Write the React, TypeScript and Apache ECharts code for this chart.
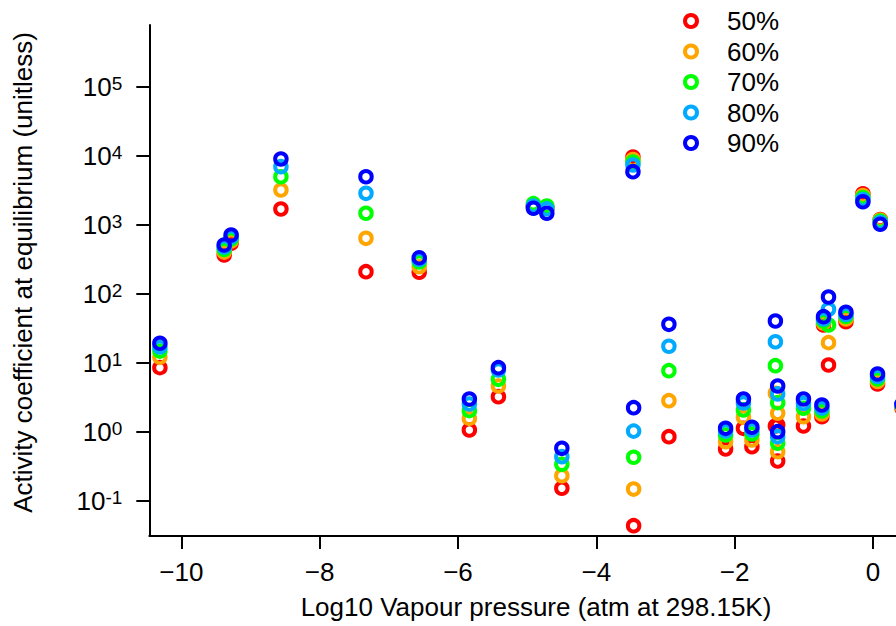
import React, { useEffect, useRef } from 'react';
import * as echarts from 'echarts';

const FONT = '"Liberation Sans", Arial, sans-serif';

const seriesNames = ['50%', '60%', '70%', '80%', '90%'];
const seriesColors = ['#ff0000', '#ffa500', '#00ff00', '#00aaff', '#0000ff'];

// Log10 vapour pressure of each compound (atm at 298.15K)
const vapourPressure = [
  -10.31, -9.38, -9.28, -8.56, -7.33, -6.56, -5.835, -5.415, -4.498, -4.909,
  -4.715, -3.47, -3.46, -2.95, -2.13, -1.872, -1.75, -1.41, -1.377, -1.377,
  -1.004, -0.738, -0.714, -0.642, -0.39, 0.067, -0.145, 0.106, 0.42,
];

// Activity coefficients at equilibrium for each RH
const gamma50 = [
  8.5, 367, 543, 1708, 210, 206, 1.06, 3.22, 0.151, 1850,
  1750, 9700, 0.0432, 0.846, 0.561, 1.12, 0.606, 1.21, 1.25, 0.376,
  1.21, 1.65, 35.4, 9.29, 39.5, 4.92, 2845, 1202, 2.2,
];
const gamma60 = [
  12, 405, 586, 3221, 641, 248, 1.56, 4.61, 0.23, 1950,
  1800, 8930, 0.147, 2.82, 0.716, 1.62, 0.758, 3.61, 1.85, 0.513,
  1.65, 1.81, 37.9, 19.6, 43.2, 5.35, 2680, 1183, 2.3,
];
const gamma70 = [
  14.8, 441, 627, 5023, 1479, 290, 2.02, 5.76, 0.336, 2040,
  1890, 8210, 0.425, 7.68, 0.895, 2.07, 0.926, 9.08, 2.64, 0.679,
  2.19, 2.0, 40.5, 35.4, 47, 5.82, 2506, 1143, 2.4,
];
const gamma80 = [
  17, 479, 670, 7018, 2884, 316, 2.52, 7.86, 0.434, 1890,
  1710, 7430, 1.02, 17.4, 1.02, 2.61, 1.06, 20.2, 3.53, 0.846,
  2.57, 2.21, 43.2, 59.8, 50.2, 6.32, 2344, 1087, 2.45,
];
const gamma90 = [
  19.2, 513, 716, 9078, 5023, 335, 2.98, 8.49, 0.574, 1750,
  1480, 5940, 2.23, 36.2, 1.12, 2.98, 1.16, 40.4, 4.6, 1.0,
  2.98, 2.44, 46.7, 90.2, 54.1, 6.88, 2178, 1024, 2.5,
];
const gammaSeries = [gamma50, gamma60, gamma70, gamma80, gamma90];

const xTicks = [-10, -8, -6, -4, -2, 0];
const yTicks = [0.1, 1, 10, 100, 1000, 10000, 100000];

const xTitle = 'Log10 Vapour pressure (atm at 298.15K)';
const yTitle = 'Activity coefficient at equilibrium (unitless)';

export default function App() {
  const ref = useRef<HTMLDivElement>(null);

  useEffect(() => {
    const chart = echarts.init(ref.current!, null, { renderer: 'svg' });
    const axisLineStyle = { color: '#000', width: 2 };
    chart.setOption({
      animation: false,
      backgroundColor: '#fff',
      grid: {
        left: 149.3,
        top: 25,
        right: 57.3,
        bottom: 90,
        containLabel: false,
        outerBoundsMode: 'none',
      },
      xAxis: {
        type: 'value',
        min: -10.463,
        max: 0.72,
        axisLine: { show: true, onZero: false, lineStyle: axisLineStyle },
        axisTick: { show: true, inside: false, length: 13, lineStyle: axisLineStyle, customValues: xTicks },
        axisLabel: {
          customValues: xTicks,
          fontSize: 26,
          fontFamily: FONT,
          color: '#000',
          margin: 23,
          formatter: (v: number) => (v < 0 ? '\u2212' + Math.abs(v) : String(v)),
        },
        splitLine: { show: false },
        name: xTitle,
        nameLocation: 'middle',
        nameGap: 58,
        nameTextStyle: { fontSize: 26, fontFamily: FONT, color: '#000' },
      },
      yAxis: {
        type: 'log',
        logBase: 10,
        min: 0.03062,
        max: 799800,
        axisLine: { show: true, onZero: false, lineStyle: axisLineStyle },
        axisTick: { show: true, inside: false, length: 13, lineStyle: axisLineStyle, customValues: yTicks },
        axisLabel: {
          customValues: yTicks,
          margin: 27,
          formatter: (v: number) => `{b|10}{s|${Math.round(Math.log10(v))}}`,
          rich: {
            b: {
              fontSize: 26,
              fontFamily: FONT,
              color: '#000',
              lineHeight: 26,
              verticalAlign: 'bottom',
              padding: [8, 0, 0, 0],
            },
            s: {
              fontSize: 19,
              fontFamily: FONT,
              color: '#000',
              lineHeight: 19,
              verticalAlign: 'top',
            },
          },
        },
        splitLine: { show: false },
      },
      legend: {
        orient: 'vertical',
        left: 678,
        top: 3,
        itemWidth: 12,
        itemHeight: 12,
        itemGap: 4.5,
        icon: 'circle',
        itemStyle: { color: 'transparent', borderWidth: 4, opacity: 1 },
        textStyle: {
          fontSize: 26,
          fontFamily: FONT,
          color: '#000',
          lineHeight: 26,
          padding: [0, 0, 0, 25],
        },
        data: seriesNames,
      },
      graphic: [
        {
          type: 'text',
          x: 23,
          y: 272.5,
          rotation: Math.PI / 2,
          style: {
            text: yTitle,
            font: `26px ${FONT}`,
            fill: '#000',
            align: 'center',
            verticalAlign: 'middle',
          },
        },
      ],
      series: seriesNames.map((name, k) => ({
        type: 'scatter',
        name,
        symbol: 'circle',
        symbolSize: 11.5,
        silent: true,
        itemStyle: {
          color: 'transparent',
          borderColor: seriesColors[k],
          borderWidth: 4,
          opacity: 1,
        },
        data: vapourPressure.map((x, i) => [x, gammaSeries[k][i]]),
      })),
    });
    return () => chart.dispose();
  }, []);

  return (
    <div
      style={{
        position: 'fixed',
        left: 0,
        top: 0,
        width: 896,
        height: 626,
        overflow: 'hidden',
        background: '#fff',
      }}
    >
      <div ref={ref} style={{ width: 980, height: 626 }} />
    </div>
  );
}
